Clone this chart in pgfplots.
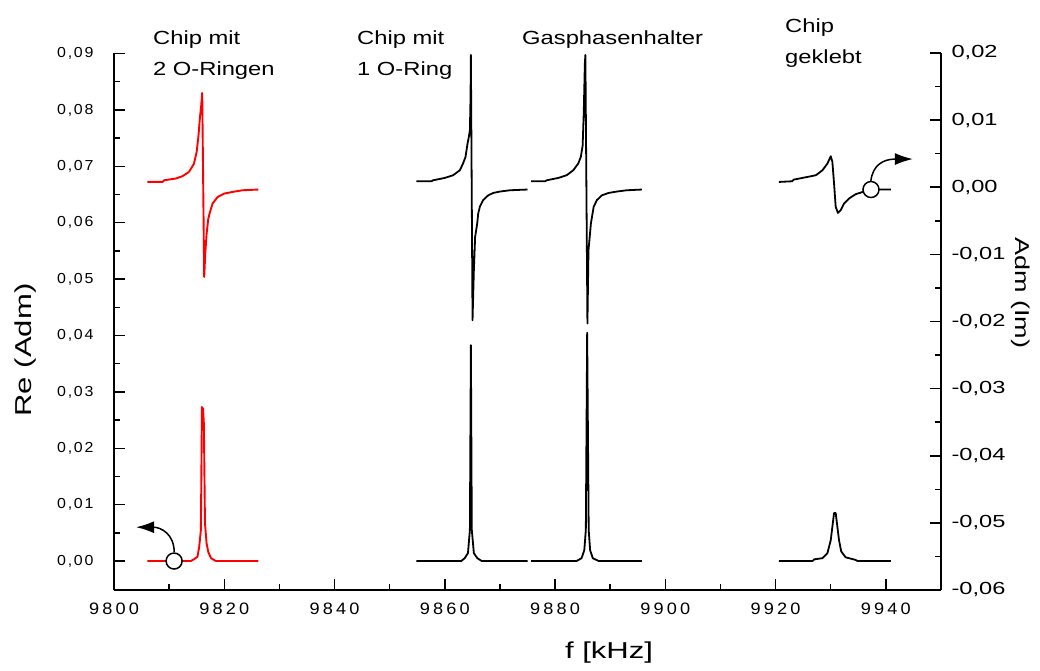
\documentclass[border=0pt]{standalone}
\usepackage{fontspec}
\usepackage{pgfplots}
\pgfplotsset{compat=1.18}
\usetikzlibrary{arrows.meta}
\setmainfont{Liberation Sans}
\newfontfamily\fA[FakeStretch=1.25]{Liberation Sans}
\newfontfamily\fX[FakeStretch=1.1,LetterSpace=19]{Liberation Sans}
\newfontfamily\fL[FakeStretch=1.1,LetterSpace=12]{Liberation Sans}
\newfontfamily\fR[FakeStretch=1.35]{Liberation Sans}
\newfontfamily\fLab[FakeStretch=1.35]{Liberation Sans}
\begin{document}
\begin{tikzpicture}[x=1pt,y=1pt]
% ---------- left axis: Re(Adm) ----------
\begin{axis}[
  scale only axis, width=827pt, height=537pt,
  at={(0,0)}, anchor=south west,
  xmin=9800, xmax=9950, ymin=-0.00514, ymax=0.0901,
  scaled x ticks=false, scaled y ticks=false,
  axis x line=bottom, axis y line=left,
  axis line style={-, line width=1.5pt},
  every tick/.style={black, line width=1.5pt},
  tick align=inside,
  major tick length=11pt, minor tick length=6pt,
  xtick={9800,9820,9840,9860,9880,9900,9920,9940},
  xticklabels={9800,9820,9840,9860,9880,9900,9920,9940},
  minor x tick num=1,
  ytick={0,0.01,0.02,0.03,0.04,0.05,0.06,0.07,0.08,0.09},
  yticklabels={{0,00},{0,01},{0,02},{0,03},{0,04},{0,05},{0,06},{0,07},{0,08},{0,09}},
  minor y tick num=1,
  xticklabel style={font=\fX\fontsize{16.5}{16.5}\selectfont, yshift=-9pt},
  yticklabel style={font=\fL\fontsize{14.5}{14.5}\selectfont, xshift=-17pt},
  clip=false,
]
% red Re
\addplot[red, line width=1.9pt, line join=round, mark=none] coordinates {
(9806.06,0) (9813.9,0) (9814.5,0.0003) (9815.15,0.00077) (9815.45,0.0025)
(9815.76,0.0055) (9815.95,0.0273) (9816.15,0.027) (9816.3,0.0244)
(9816.5,0.0067) (9816.8,0.0031) (9817.1,0.0016) (9817.6,0.0005)
(9818.5,0) (9826.2,0)};
% 1 O-Ring Re
\addplot[black, line width=1.8pt, line join=round, mark=none] coordinates {
(9854.85,0) (9863.0,0) (9863.6,0.0005) (9864.2,0.0014) (9864.55,0.0055)
(9864.73,0.0383) (9864.9,0.0055) (9865.27,0.0014) (9865.9,0.0005)
(9866.7,0) (9875.0,0)};
% Gasphasenhalter Re
\addplot[black, line width=1.8pt, line join=round, mark=none] coordinates {
(9875.64,0) (9883.9,0) (9884.8,0.0005) (9885.3,0.0019) (9885.58,0.0055)
(9885.82,0.0405) (9886.1,0.0055) (9886.36,0.0019) (9886.85,0.0005)
(9887.9,0) (9895.76,0)};
% geklebt Re
\addplot[black, line width=1.8pt, line join=round, mark=none] coordinates {
(9920.6,0) (9926.7,0) (9927.0,0.0003) (9928.5,0.0005) (9929.4,0.0014)
(9930.0,0.0037) (9930.3,0.0061) (9930.6,0.0085) (9930.9,0.0085)
(9931.2,0.0061) (9931.5,0.0037) (9931.9,0.0017) (9932.7,0.00066)
(9934.5,0.0002) (9934.85,0) (9940.9,0)};
% arrow to the left axis
\draw[line width=1.5pt, -{Latex[length=18pt,width=12pt]}]
  (axis cs:9810.91,0.0016) .. controls (axis cs:9810.91,0.0048) and (axis cs:9808.5,0.0060) .. (axis cs:9804.0,0.0060);
\addplot[black, line width=1.5pt, mark=*, mark size=8pt, mark options={fill=white}, only marks] coordinates {(9810.9,0)};
\end{axis}
% ---------- right axis: Im(Adm) ----------
\begin{axis}[
  scale only axis, width=827pt, height=537pt,
  at={(0,0)}, anchor=south west,
  xmin=9800, xmax=9950, ymin=-0.06, ymax=0.02,
  scaled x ticks=false, scaled y ticks=false,
  axis x line=none, axis y line=right,
  axis line style={-, line width=1.5pt},
  every tick/.style={black, line width=1.5pt},
  tick align=inside,
  major tick length=11pt, minor tick length=6pt,
  ytick={-0.06,-0.05,-0.04,-0.03,-0.02,-0.01,0,0.01,0.02},
  yticklabels={{-0,06},{-0,05},{-0,04},{-0,03},{-0,02},{-0,01},{0,00},{0,01},{0,02}},
  minor y tick num=1,
  yticklabel style={font=\fR\fontsize{17.5}{17.5}\selectfont, xshift=7pt},
  clip=false,
]
% red Im
\addplot[red, line width=1.9pt, line join=round, mark=none] coordinates {
(9806.06,0.00079) (9808.8,0.00079) (9809.1,0.00104) (9811.2,0.0013)
(9812.4,0.00164) (9813.6,0.00228) (9814.5,0.0035) (9815.0,0.0053)
(9815.3,0.0075) (9815.6,0.0105) (9815.8,0.012) (9816.0,0.01405)
(9816.36,-0.01336) (9816.55,-0.0099) (9816.8,-0.0069) (9817.1,-0.0047)
(9817.4,-0.0037) (9817.9,-0.0024) (9818.8,-0.00145) (9820.0,-0.00094)
(9821.5,-0.0007) (9823.3,-0.00045) (9826.2,-0.00034)};
% 1 O-Ring Im
\addplot[black, line width=1.8pt, line join=round, mark=none] coordinates {
(9854.85,0.00089) (9857.58,0.00089) (9857.88,0.00104) (9860.0,0.00139)
(9861.5,0.00179) (9862.73,0.00253) (9863.3,0.00353) (9863.76,0.00452)
(9864.12,0.0065) (9864.36,0.0075) (9864.55,0.0085) (9864.67,0.0135)
(9864.73,0.0197) (9865.03,-0.0198) (9865.27,-0.0124) (9865.5,-0.0074)
(9865.88,-0.0054) (9866.06,-0.0039) (9866.36,-0.0029) (9866.97,-0.0019)
(9867.88,-0.0012) (9868.79,-0.00085) (9870.0,-0.00064) (9871.8,-0.00045)
(9875.0,-0.00034)};
% Gasphasenhalter Im
\addplot[black, line width=1.8pt, line join=round, mark=none] coordinates {
(9875.64,0.00089) (9878.18,0.00089) (9878.5,0.00104) (9880.6,0.00139)
(9882.1,0.00179) (9883.3,0.00253) (9884.2,0.00353) (9884.67,0.00452)
(9885.0,0.0062) (9885.2,0.011) (9885.4,0.0184) (9885.5,0.0197)
(9885.87,-0.0203) (9886.06,-0.0094) (9886.5,-0.0054) (9886.7,-0.0044)
(9887.0,-0.0029) (9887.6,-0.0019) (9888.5,-0.0012) (9889.7,-0.00085)
(9891.2,-0.00064) (9893.0,-0.00045) (9895.76,-0.00034)};
% geklebt Im
\addplot[black, line width=1.8pt, line join=round, mark=none] coordinates {
(9920.6,0.00079) (9923.0,0.00089) (9923.3,0.00114) (9925.8,0.00154)
(9927.3,0.00179) (9928.5,0.00253) (9929.4,0.00353) (9930.0,0.00462)
(9930.3,0.00377) (9930.6,0.00055) (9930.9,-0.00293) (9931.3,-0.00382)
(9931.8,-0.00343) (9932.4,-0.00243) (9933.3,-0.00169) (9934.5,-0.00104)
(9935.8,-0.0007) (9937.3,-0.00034) (9940.9,-0.00034)};
% arrow to the right axis
\draw[line width=1.5pt, -{Latex[length=18pt,width=12pt]}]
  (axis cs:9937.27,0.0009) .. controls (axis cs:9937.6,0.0033) and (axis cs:9939.5,0.0042) .. (axis cs:9944.9,0.0042);
\addplot[black, line width=1.5pt, mark=*, mark size=8pt, mark options={fill=white}, only marks] coordinates {(9937.3,-0.00034)};
\end{axis}
% ---------- labels ----------
\node[rotate=90, font=\fLab\fontsize{23}{23}\selectfont] at (-88,240) {Re (Adm)};
\node[font=\fLab\fontsize{23}{23}\selectfont] at (495,-63) {f [kHz]};
\node[rotate=-90, font=\fLab\fontsize{20}{20}\selectfont] at (907,297) {Adm (Im)};
\begin{scope}[every node/.style={anchor=base west, inner sep=0pt, font=\fA\fontsize{19}{19}\selectfont}]
\node at (39,545) {Chip mit};
\node at (39,514) {2 O-Ringen};
\node at (243,545) {Chip mit};
\node at (243,514) {1 O-Ring};
\node at (408,545) {Gasphasenhalter};
\node at (671,557) {Chip};
\node at (671,526) {geklebt};
\end{scope}
\pgfresetboundingbox
\path (-114,-80) rectangle (926,590);
\end{tikzpicture}
\end{document}
